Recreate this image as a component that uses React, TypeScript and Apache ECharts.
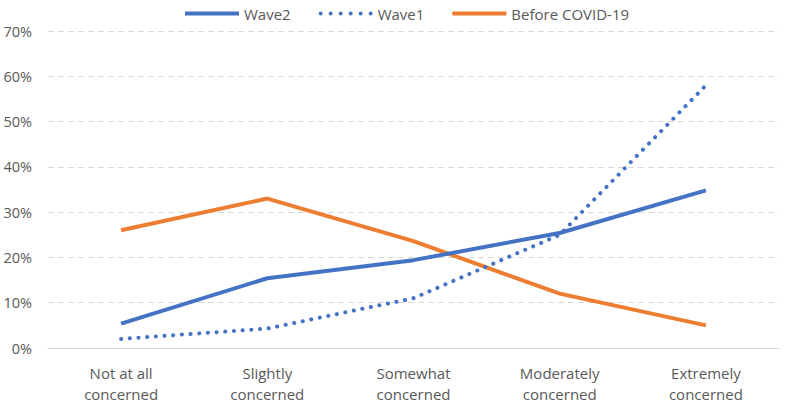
import React, { useEffect, useRef } from "react";
import * as echarts from "echarts";

const categories = [
  "Not at all\nconcerned",
  "Slightly\nconcerned",
  "Somewhat\nconcerned",
  "Moderately\nconcerned",
  "Extremely\nconcerned",
];
const wave2 = [5.4, 15.4, 19.4, 25.4, 34.8];
const wave1 = [2.0, 4.3, 11.0, 25.0, 58.0];
const beforeCovid = [26.0, 33.0, 23.6, 12.0, 5.0];
const yTicks = [0, 10, 20, 30, 40, 50, 60, 70];

const FONT = "'Open Sans', 'Liberation Sans', sans-serif";
const GRAY = "#595959";

const dot = (cx: number) => `M${cx - 2},2 A2,2 0 1 1 ${cx + 2},2 A2,2 0 1 1 ${cx - 2},2 Z`;
const dotsIcon = "path://" + [2, 12, 22, 32, 42, 52].map(dot).join(" ");
const barIcon = "path://M0,0 L54,0 L54,4 L0,4 Z";

export default function App() {
  const ref = useRef<HTMLDivElement>(null);
  useEffect(() => {
    if (!ref.current) return;
    const chart = echarts.init(ref.current, undefined, { renderer: "svg" });
    chart.setOption({
      animation: false,
      textStyle: { fontFamily: FONT },
      legend: {
        top: 1,
        left: 180,
        itemWidth: 54,
        itemHeight: 14,
        itemGap: 28,
        textStyle: { color: GRAY, fontSize: 15, fontFamily: FONT },
        data: [
          { name: "Wave2", icon: barIcon, itemStyle: { color: "#4472C4" } },
          { name: "Wave1", icon: dotsIcon, itemStyle: { color: "#4472C4" } },
          { name: "Before COVID-19", icon: barIcon, itemStyle: { color: "#ED7D31" } },
        ],
      },
      grid: { left: 48, right: 10, top: 31, bottom: 57 },
      xAxis: {
        type: "category",
        data: categories,
        boundaryGap: true,
        axisLine: { lineStyle: { color: "#d9d9d9", width: 1 } },
        axisTick: { show: false },
        axisLabel: {
          color: GRAY,
          fontSize: 15,
          lineHeight: 21,
          margin: 14,
          fontFamily: FONT,
        },
      },
      yAxis: {
        type: "value",
        min: yTicks[0],
        max: yTicks[yTicks.length - 1],
        interval: 10,
        axisLine: { show: false },
        axisTick: { show: false },
        axisLabel: {
          color: GRAY,
          fontSize: 14.5,
          margin: 16,
          fontFamily: FONT,
          formatter: (v: number) => `${v}%`,
        },
        splitLine: { lineStyle: { color: "#d9d9d9", type: [6, 4], width: 1 } },
      },
      series: [
        {
          name: "Wave2",
          type: "line",
          data: wave2,
          symbol: "none",
          lineStyle: { color: "#4472C4", width: 4 },
          itemStyle: { color: "#4472C4" },
          z: 3,
        },
        {
          name: "Wave1",
          type: "line",
          data: wave1,
          symbol: "none",
          lineStyle: { color: "#4472C4", width: 4, type: [0.1, 8.6], cap: "round" },
          itemStyle: { color: "#4472C4" },
          z: 2,
        },
        {
          name: "Before COVID-19",
          type: "line",
          data: beforeCovid,
          symbol: "none",
          lineStyle: { color: "#ED7D31", width: 4 },
          itemStyle: { color: "#ED7D31" },
          z: 1,
        },
      ],
    });
    return () => chart.dispose();
  }, []);
  return <div ref={ref} style={{ width: 789, height: 405, position: "absolute", left: 0, top: 0 }} />;
}
